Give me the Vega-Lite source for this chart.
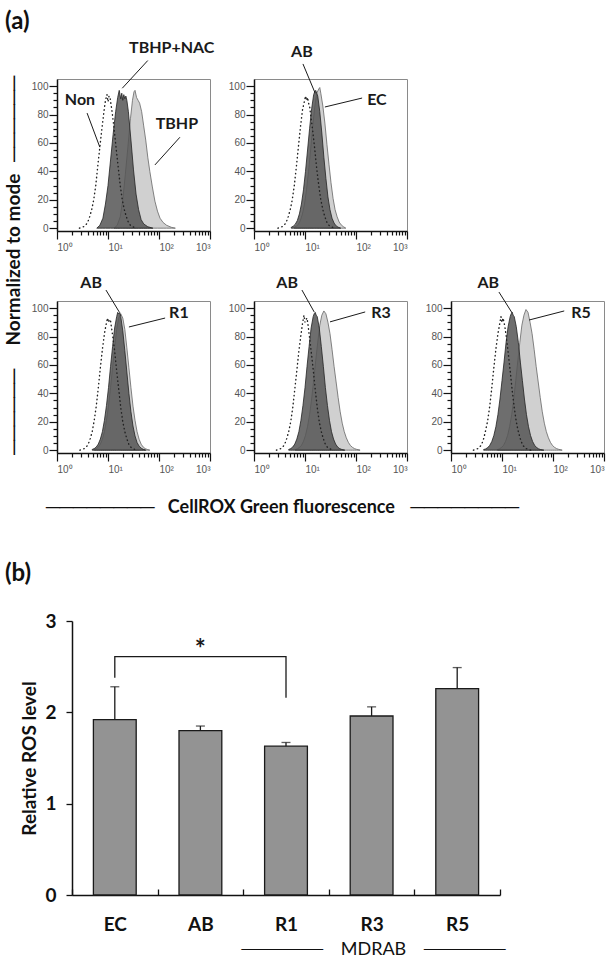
{
"$schema": "https://vega.github.io/schema/vega-lite/v6.json",
"autosize": {"type": "none"},
"padding": {"left": 57, "top": 79, "right": 550, "bottom": 879},
"background": "white",
"config": {"view": {"stroke": "#8a8a8a", "strokeWidth": 1}, "font": "Lato"},
"datasets": {
"curves": [
{"panel":"A","curve":"non","logF":0.44,"pct":0},{"panel":"A","curve":"non","logF":0.48,"pct":0.5},{"panel":"A","curve":"non","logF":0.52,"pct":1},{"panel":"A","curve":"non","logF":0.56,"pct":2},{"panel":"A","curve":"non","logF":0.60,"pct":4},{"panel":"A","curve":"non","logF":0.64,"pct":8},{"panel":"A","curve":"non","logF":0.68,"pct":13},{"panel":"A","curve":"non","logF":0.72,"pct":20},{"panel":"A","curve":"non","logF":0.76,"pct":30},{"panel":"A","curve":"non","logF":0.80,"pct":44},{"panel":"A","curve":"non","logF":0.84,"pct":57},{"panel":"A","curve":"non","logF":0.88,"pct":70},{"panel":"A","curve":"non","logF":0.92,"pct":82},{"panel":"A","curve":"non","logF":0.95,"pct":90},{"panel":"A","curve":"non","logF":0.98,"pct":94},{"panel":"A","curve":"non","logF":1.00,"pct":89},{"panel":"A","curve":"non","logF":1.02,"pct":93},{"panel":"A","curve":"non","logF":1.04,"pct":92},{"panel":"A","curve":"non","logF":1.06,"pct":87},{"panel":"A","curve":"non","logF":1.08,"pct":82},{"panel":"A","curve":"non","logF":1.12,"pct":70},{"panel":"A","curve":"non","logF":1.16,"pct":56},{"panel":"A","curve":"non","logF":1.20,"pct":43},{"panel":"A","curve":"non","logF":1.24,"pct":30},{"panel":"A","curve":"non","logF":1.28,"pct":20},{"panel":"A","curve":"non","logF":1.32,"pct":13},{"panel":"A","curve":"non","logF":1.36,"pct":8},{"panel":"A","curve":"non","logF":1.40,"pct":4},{"panel":"A","curve":"non","logF":1.44,"pct":2},{"panel":"A","curve":"non","logF":1.48,"pct":1},{"panel":"A","curve":"non","logF":1.56,"pct":0},
{"panel":"A","curve":"dark","logF":0.78,"pct":0},{"panel":"A","curve":"dark","logF":0.84,"pct":2},{"panel":"A","curve":"dark","logF":0.90,"pct":7},{"panel":"A","curve":"dark","logF":0.95,"pct":17},{"panel":"A","curve":"dark","logF":1.00,"pct":30},{"panel":"A","curve":"dark","logF":1.05,"pct":48},{"panel":"A","curve":"dark","logF":1.10,"pct":66},{"panel":"A","curve":"dark","logF":1.15,"pct":82},{"panel":"A","curve":"dark","logF":1.19,"pct":92},{"panel":"A","curve":"dark","logF":1.22,"pct":97},{"panel":"A","curve":"dark","logF":1.25,"pct":91},{"panel":"A","curve":"dark","logF":1.27,"pct":95},{"panel":"A","curve":"dark","logF":1.29,"pct":90},{"panel":"A","curve":"dark","logF":1.31,"pct":94},{"panel":"A","curve":"dark","logF":1.33,"pct":91},{"panel":"A","curve":"dark","logF":1.35,"pct":93},{"panel":"A","curve":"dark","logF":1.37,"pct":90},{"panel":"A","curve":"dark","logF":1.40,"pct":82},{"panel":"A","curve":"dark","logF":1.45,"pct":62},{"panel":"A","curve":"dark","logF":1.50,"pct":41},{"panel":"A","curve":"dark","logF":1.55,"pct":24},{"panel":"A","curve":"dark","logF":1.60,"pct":13},{"panel":"A","curve":"dark","logF":1.65,"pct":6},{"panel":"A","curve":"dark","logF":1.70,"pct":3},{"panel":"A","curve":"dark","logF":1.78,"pct":1},{"panel":"A","curve":"dark","logF":1.88,"pct":0},
{"panel":"A","curve":"light","logF":1.12,"pct":0},{"panel":"A","curve":"light","logF":1.18,"pct":2},{"panel":"A","curve":"light","logF":1.24,"pct":8},{"panel":"A","curve":"light","logF":1.29,"pct":20},{"panel":"A","curve":"light","logF":1.34,"pct":38},{"panel":"A","curve":"light","logF":1.39,"pct":57},{"panel":"A","curve":"light","logF":1.44,"pct":77},{"panel":"A","curve":"light","logF":1.48,"pct":90},{"panel":"A","curve":"light","logF":1.51,"pct":96},{"panel":"A","curve":"light","logF":1.53,"pct":97},{"panel":"A","curve":"light","logF":1.56,"pct":92},{"panel":"A","curve":"light","logF":1.59,"pct":90},{"panel":"A","curve":"light","logF":1.62,"pct":88},{"panel":"A","curve":"light","logF":1.66,"pct":82},{"panel":"A","curve":"light","logF":1.70,"pct":72},{"panel":"A","curve":"light","logF":1.74,"pct":62},{"panel":"A","curve":"light","logF":1.78,"pct":50},{"panel":"A","curve":"light","logF":1.82,"pct":40},{"panel":"A","curve":"light","logF":1.87,"pct":29},{"panel":"A","curve":"light","logF":1.92,"pct":19},{"panel":"A","curve":"light","logF":1.97,"pct":12},{"panel":"A","curve":"light","logF":2.02,"pct":7},{"panel":"A","curve":"light","logF":2.08,"pct":4},{"panel":"A","curve":"light","logF":2.15,"pct":2},{"panel":"A","curve":"light","logF":2.25,"pct":0.5},{"panel":"A","curve":"light","logF":2.32,"pct":0},
{"panel":"B","curve":"non","logF":0.47,"pct":0},{"panel":"B","curve":"non","logF":0.51,"pct":0.5},{"panel":"B","curve":"non","logF":0.55,"pct":1},{"panel":"B","curve":"non","logF":0.59,"pct":2},{"panel":"B","curve":"non","logF":0.63,"pct":4},{"panel":"B","curve":"non","logF":0.67,"pct":8},{"panel":"B","curve":"non","logF":0.71,"pct":13},{"panel":"B","curve":"non","logF":0.75,"pct":20},{"panel":"B","curve":"non","logF":0.79,"pct":30},{"panel":"B","curve":"non","logF":0.83,"pct":43},{"panel":"B","curve":"non","logF":0.87,"pct":57},{"panel":"B","curve":"non","logF":0.91,"pct":71},{"panel":"B","curve":"non","logF":0.95,"pct":83},{"panel":"B","curve":"non","logF":0.98,"pct":88},{"panel":"B","curve":"non","logF":1.01,"pct":93},{"panel":"B","curve":"non","logF":1.03,"pct":90},{"panel":"B","curve":"non","logF":1.05,"pct":92},{"panel":"B","curve":"non","logF":1.07,"pct":88},{"panel":"B","curve":"non","logF":1.09,"pct":86},{"panel":"B","curve":"non","logF":1.11,"pct":80},{"panel":"B","curve":"non","logF":1.15,"pct":69},{"panel":"B","curve":"non","logF":1.19,"pct":56},{"panel":"B","curve":"non","logF":1.23,"pct":42},{"panel":"B","curve":"non","logF":1.27,"pct":30},{"panel":"B","curve":"non","logF":1.31,"pct":20},{"panel":"B","curve":"non","logF":1.35,"pct":13},{"panel":"B","curve":"non","logF":1.39,"pct":8},{"panel":"B","curve":"non","logF":1.43,"pct":4},{"panel":"B","curve":"non","logF":1.47,"pct":2},{"panel":"B","curve":"non","logF":1.51,"pct":1},{"panel":"B","curve":"non","logF":1.59,"pct":0},
{"panel":"B","curve":"dark","logF":0.73,"pct":0.6},{"panel":"B","curve":"dark","logF":0.77,"pct":1.4},{"panel":"B","curve":"dark","logF":0.81,"pct":2.8},{"panel":"B","curve":"dark","logF":0.85,"pct":5.4},{"panel":"B","curve":"dark","logF":0.89,"pct":10},{"panel":"B","curve":"dark","logF":0.93,"pct":17},{"panel":"B","curve":"dark","logF":0.97,"pct":27},{"panel":"B","curve":"dark","logF":1.01,"pct":40},{"panel":"B","curve":"dark","logF":1.05,"pct":55},{"panel":"B","curve":"dark","logF":1.09,"pct":70},{"panel":"B","curve":"dark","logF":1.13,"pct":84},{"panel":"B","curve":"dark","logF":1.17,"pct":94},{"panel":"B","curve":"dark","logF":1.19,"pct":96},{"panel":"B","curve":"dark","logF":1.21,"pct":97},{"panel":"B","curve":"dark","logF":1.23,"pct":95},{"panel":"B","curve":"dark","logF":1.25,"pct":93},{"panel":"B","curve":"dark","logF":1.29,"pct":82},{"panel":"B","curve":"dark","logF":1.33,"pct":67},{"panel":"B","curve":"dark","logF":1.37,"pct":50},{"panel":"B","curve":"dark","logF":1.41,"pct":35},{"panel":"B","curve":"dark","logF":1.45,"pct":22},{"panel":"B","curve":"dark","logF":1.49,"pct":13},{"panel":"B","curve":"dark","logF":1.53,"pct":7},{"panel":"B","curve":"dark","logF":1.57,"pct":3.6},{"panel":"B","curve":"dark","logF":1.61,"pct":1.6},{"panel":"B","curve":"dark","logF":1.65,"pct":0.7},{"panel":"B","curve":"dark","logF":1.70,"pct":0},
{"panel":"B","curve":"light","logF":0.79,"pct":0.6},{"panel":"B","curve":"light","logF":0.83,"pct":1.4},{"panel":"B","curve":"light","logF":0.87,"pct":2.7},{"panel":"B","curve":"light","logF":0.91,"pct":5.5},{"panel":"B","curve":"light","logF":0.95,"pct":10},{"panel":"B","curve":"light","logF":0.99,"pct":17},{"panel":"B","curve":"light","logF":1.03,"pct":27},{"panel":"B","curve":"light","logF":1.07,"pct":40},{"panel":"B","curve":"light","logF":1.11,"pct":55},{"panel":"B","curve":"light","logF":1.15,"pct":71},{"panel":"B","curve":"light","logF":1.19,"pct":85},{"panel":"B","curve":"light","logF":1.23,"pct":95},{"panel":"B","curve":"light","logF":1.27,"pct":98},{"panel":"B","curve":"light","logF":1.29,"pct":99},{"panel":"B","curve":"light","logF":1.31,"pct":95},{"panel":"B","curve":"light","logF":1.35,"pct":86},{"panel":"B","curve":"light","logF":1.39,"pct":74},{"panel":"B","curve":"light","logF":1.43,"pct":59},{"panel":"B","curve":"light","logF":1.47,"pct":45},{"panel":"B","curve":"light","logF":1.51,"pct":32},{"panel":"B","curve":"light","logF":1.55,"pct":21},{"panel":"B","curve":"light","logF":1.59,"pct":13},{"panel":"B","curve":"light","logF":1.63,"pct":8},{"panel":"B","curve":"light","logF":1.67,"pct":4.3},{"panel":"B","curve":"light","logF":1.71,"pct":2.3},{"panel":"B","curve":"light","logF":1.75,"pct":1.1},{"panel":"B","curve":"light","logF":1.80,"pct":0},
{"panel":"R1","curve":"non","logF":0.45,"pct":0},{"panel":"R1","curve":"non","logF":0.49,"pct":0.5},{"panel":"R1","curve":"non","logF":0.53,"pct":1},{"panel":"R1","curve":"non","logF":0.57,"pct":2},{"panel":"R1","curve":"non","logF":0.61,"pct":4},{"panel":"R1","curve":"non","logF":0.65,"pct":8},{"panel":"R1","curve":"non","logF":0.69,"pct":13},{"panel":"R1","curve":"non","logF":0.73,"pct":21},{"panel":"R1","curve":"non","logF":0.77,"pct":31},{"panel":"R1","curve":"non","logF":0.81,"pct":44},{"panel":"R1","curve":"non","logF":0.85,"pct":58},{"panel":"R1","curve":"non","logF":0.89,"pct":71},{"panel":"R1","curve":"non","logF":0.93,"pct":82},{"panel":"R1","curve":"non","logF":0.96,"pct":88},{"panel":"R1","curve":"non","logF":0.99,"pct":93},{"panel":"R1","curve":"non","logF":1.01,"pct":90},{"panel":"R1","curve":"non","logF":1.03,"pct":92},{"panel":"R1","curve":"non","logF":1.05,"pct":91},{"panel":"R1","curve":"non","logF":1.07,"pct":86},{"panel":"R1","curve":"non","logF":1.09,"pct":81},{"panel":"R1","curve":"non","logF":1.13,"pct":70},{"panel":"R1","curve":"non","logF":1.17,"pct":56},{"panel":"R1","curve":"non","logF":1.21,"pct":43},{"panel":"R1","curve":"non","logF":1.25,"pct":30},{"panel":"R1","curve":"non","logF":1.29,"pct":20},{"panel":"R1","curve":"non","logF":1.33,"pct":13},{"panel":"R1","curve":"non","logF":1.37,"pct":8},{"panel":"R1","curve":"non","logF":1.41,"pct":4},{"panel":"R1","curve":"non","logF":1.45,"pct":2},{"panel":"R1","curve":"non","logF":1.49,"pct":1},{"panel":"R1","curve":"non","logF":1.57,"pct":0},
{"panel":"R1","curve":"dark","logF":0.69,"pct":0.5},{"panel":"R1","curve":"dark","logF":0.73,"pct":1.1},{"panel":"R1","curve":"dark","logF":0.77,"pct":2.2},{"panel":"R1","curve":"dark","logF":0.81,"pct":4.3},{"panel":"R1","curve":"dark","logF":0.85,"pct":7.8},{"panel":"R1","curve":"dark","logF":0.89,"pct":13},{"panel":"R1","curve":"dark","logF":0.93,"pct":21},{"panel":"R1","curve":"dark","logF":0.97,"pct":31.5},{"panel":"R1","curve":"dark","logF":1.01,"pct":44},{"panel":"R1","curve":"dark","logF":1.05,"pct":59},{"panel":"R1","curve":"dark","logF":1.09,"pct":73},{"panel":"R1","curve":"dark","logF":1.13,"pct":86},{"panel":"R1","curve":"dark","logF":1.17,"pct":94},{"panel":"R1","curve":"dark","logF":1.19,"pct":97},{"panel":"R1","curve":"dark","logF":1.21,"pct":96},{"panel":"R1","curve":"dark","logF":1.23,"pct":97},{"panel":"R1","curve":"dark","logF":1.25,"pct":94},{"panel":"R1","curve":"dark","logF":1.29,"pct":84},{"panel":"R1","curve":"dark","logF":1.33,"pct":70},{"panel":"R1","curve":"dark","logF":1.37,"pct":55},{"panel":"R1","curve":"dark","logF":1.41,"pct":40},{"panel":"R1","curve":"dark","logF":1.45,"pct":27},{"panel":"R1","curve":"dark","logF":1.49,"pct":17},{"panel":"R1","curve":"dark","logF":1.53,"pct":10},{"panel":"R1","curve":"dark","logF":1.57,"pct":5.4},{"panel":"R1","curve":"dark","logF":1.61,"pct":2.8},{"panel":"R1","curve":"dark","logF":1.65,"pct":1.4},{"panel":"R1","curve":"dark","logF":1.69,"pct":0.6},{"panel":"R1","curve":"dark","logF":1.74,"pct":0},
{"panel":"R1","curve":"light","logF":0.73,"pct":0.5},{"panel":"R1","curve":"light","logF":0.77,"pct":1.1},{"panel":"R1","curve":"light","logF":0.81,"pct":2.2},{"panel":"R1","curve":"light","logF":0.85,"pct":4.2},{"panel":"R1","curve":"light","logF":0.89,"pct":7.7},{"panel":"R1","curve":"light","logF":0.93,"pct":13},{"panel":"R1","curve":"light","logF":0.97,"pct":21},{"panel":"R1","curve":"light","logF":1.01,"pct":31},{"panel":"R1","curve":"light","logF":1.05,"pct":44},{"panel":"R1","curve":"light","logF":1.09,"pct":58},{"panel":"R1","curve":"light","logF":1.13,"pct":72},{"panel":"R1","curve":"light","logF":1.17,"pct":85},{"panel":"R1","curve":"light","logF":1.21,"pct":93},{"panel":"R1","curve":"light","logF":1.25,"pct":96},{"panel":"R1","curve":"light","logF":1.29,"pct":93},{"panel":"R1","curve":"light","logF":1.33,"pct":85},{"panel":"R1","curve":"light","logF":1.37,"pct":72},{"panel":"R1","curve":"light","logF":1.41,"pct":58},{"panel":"R1","curve":"light","logF":1.45,"pct":44},{"panel":"R1","curve":"light","logF":1.49,"pct":31},{"panel":"R1","curve":"light","logF":1.53,"pct":21},{"panel":"R1","curve":"light","logF":1.57,"pct":13},{"panel":"R1","curve":"light","logF":1.61,"pct":7.7},{"panel":"R1","curve":"light","logF":1.65,"pct":4.2},{"panel":"R1","curve":"light","logF":1.69,"pct":2.2},{"panel":"R1","curve":"light","logF":1.73,"pct":1.1},{"panel":"R1","curve":"light","logF":1.77,"pct":0.5},{"panel":"R1","curve":"light","logF":1.82,"pct":0},
{"panel":"R3","curve":"non","logF":0.44,"pct":0},{"panel":"R3","curve":"non","logF":0.48,"pct":0.5},{"panel":"R3","curve":"non","logF":0.52,"pct":1},{"panel":"R3","curve":"non","logF":0.56,"pct":2},{"panel":"R3","curve":"non","logF":0.60,"pct":4},{"panel":"R3","curve":"non","logF":0.64,"pct":8},{"panel":"R3","curve":"non","logF":0.68,"pct":13},{"panel":"R3","curve":"non","logF":0.72,"pct":20},{"panel":"R3","curve":"non","logF":0.76,"pct":30},{"panel":"R3","curve":"non","logF":0.80,"pct":43},{"panel":"R3","curve":"non","logF":0.84,"pct":56},{"panel":"R3","curve":"non","logF":0.88,"pct":70},{"panel":"R3","curve":"non","logF":0.92,"pct":81},{"panel":"R3","curve":"non","logF":0.95,"pct":89},{"panel":"R3","curve":"non","logF":0.98,"pct":95},{"panel":"R3","curve":"non","logF":1.00,"pct":90},{"panel":"R3","curve":"non","logF":1.02,"pct":92},{"panel":"R3","curve":"non","logF":1.04,"pct":93},{"panel":"R3","curve":"non","logF":1.06,"pct":88},{"panel":"R3","curve":"non","logF":1.08,"pct":82},{"panel":"R3","curve":"non","logF":1.12,"pct":70},{"panel":"R3","curve":"non","logF":1.16,"pct":57},{"panel":"R3","curve":"non","logF":1.20,"pct":43},{"panel":"R3","curve":"non","logF":1.24,"pct":30},{"panel":"R3","curve":"non","logF":1.28,"pct":20},{"panel":"R3","curve":"non","logF":1.32,"pct":13},{"panel":"R3","curve":"non","logF":1.36,"pct":8},{"panel":"R3","curve":"non","logF":1.40,"pct":4},{"panel":"R3","curve":"non","logF":1.44,"pct":2},{"panel":"R3","curve":"non","logF":1.48,"pct":1},{"panel":"R3","curve":"non","logF":1.56,"pct":0},
{"panel":"R3","curve":"dark","logF":0.68,"pct":0.5},{"panel":"R3","curve":"dark","logF":0.72,"pct":1.1},{"panel":"R3","curve":"dark","logF":0.76,"pct":2.2},{"panel":"R3","curve":"dark","logF":0.80,"pct":4.3},{"panel":"R3","curve":"dark","logF":0.84,"pct":7.8},{"panel":"R3","curve":"dark","logF":0.88,"pct":13},{"panel":"R3","curve":"dark","logF":0.92,"pct":21},{"panel":"R3","curve":"dark","logF":0.96,"pct":31.5},{"panel":"R3","curve":"dark","logF":1.00,"pct":44},{"panel":"R3","curve":"dark","logF":1.04,"pct":59},{"panel":"R3","curve":"dark","logF":1.08,"pct":73},{"panel":"R3","curve":"dark","logF":1.12,"pct":86},{"panel":"R3","curve":"dark","logF":1.16,"pct":94},{"panel":"R3","curve":"dark","logF":1.18,"pct":96},{"panel":"R3","curve":"dark","logF":1.20,"pct":97},{"panel":"R3","curve":"dark","logF":1.22,"pct":95},{"panel":"R3","curve":"dark","logF":1.24,"pct":94},{"panel":"R3","curve":"dark","logF":1.28,"pct":86},{"panel":"R3","curve":"dark","logF":1.32,"pct":73},{"panel":"R3","curve":"dark","logF":1.36,"pct":59},{"panel":"R3","curve":"dark","logF":1.40,"pct":44},{"panel":"R3","curve":"dark","logF":1.44,"pct":31.5},{"panel":"R3","curve":"dark","logF":1.48,"pct":21},{"panel":"R3","curve":"dark","logF":1.52,"pct":13},{"panel":"R3","curve":"dark","logF":1.56,"pct":7.8},{"panel":"R3","curve":"dark","logF":1.60,"pct":4.3},{"panel":"R3","curve":"dark","logF":1.64,"pct":2.2},{"panel":"R3","curve":"dark","logF":1.68,"pct":1.1},{"panel":"R3","curve":"dark","logF":1.72,"pct":0.5},{"panel":"R3","curve":"dark","logF":1.78,"pct":0},
{"panel":"R3","curve":"light","logF":0.81,"pct":0.4},{"panel":"R3","curve":"light","logF":0.85,"pct":0.9},{"panel":"R3","curve":"light","logF":0.89,"pct":1.9},{"panel":"R3","curve":"light","logF":0.93,"pct":3.4},{"panel":"R3","curve":"light","logF":0.97,"pct":6.2},{"panel":"R3","curve":"light","logF":1.01,"pct":10.4},{"panel":"R3","curve":"light","logF":1.05,"pct":16.7},{"panel":"R3","curve":"light","logF":1.09,"pct":25},{"panel":"R3","curve":"light","logF":1.13,"pct":36},{"panel":"R3","curve":"light","logF":1.17,"pct":49},{"panel":"R3","curve":"light","logF":1.21,"pct":63},{"panel":"R3","curve":"light","logF":1.25,"pct":76},{"panel":"R3","curve":"light","logF":1.29,"pct":88},{"panel":"R3","curve":"light","logF":1.33,"pct":95},{"panel":"R3","curve":"light","logF":1.37,"pct":98},{"panel":"R3","curve":"light","logF":1.41,"pct":96},{"panel":"R3","curve":"light","logF":1.45,"pct":90},{"panel":"R3","curve":"light","logF":1.49,"pct":82},{"panel":"R3","curve":"light","logF":1.53,"pct":71},{"panel":"R3","curve":"light","logF":1.57,"pct":59},{"panel":"R3","curve":"light","logF":1.61,"pct":48},{"panel":"R3","curve":"light","logF":1.65,"pct":37},{"panel":"R3","curve":"light","logF":1.69,"pct":27},{"panel":"R3","curve":"light","logF":1.73,"pct":19},{"panel":"R3","curve":"light","logF":1.77,"pct":13},{"panel":"R3","curve":"light","logF":1.81,"pct":8.7},{"panel":"R3","curve":"light","logF":1.85,"pct":5.5},{"panel":"R3","curve":"light","logF":1.89,"pct":3.3},{"panel":"R3","curve":"light","logF":1.93,"pct":2.0},{"panel":"R3","curve":"light","logF":1.97,"pct":1.1},{"panel":"R3","curve":"light","logF":2.01,"pct":0.6},{"panel":"R3","curve":"light","logF":2.08,"pct":0},
{"panel":"R5","curve":"non","logF":0.44,"pct":0},{"panel":"R5","curve":"non","logF":0.48,"pct":0.5},{"panel":"R5","curve":"non","logF":0.52,"pct":1},{"panel":"R5","curve":"non","logF":0.56,"pct":2},{"panel":"R5","curve":"non","logF":0.60,"pct":4},{"panel":"R5","curve":"non","logF":0.64,"pct":8},{"panel":"R5","curve":"non","logF":0.68,"pct":14},{"panel":"R5","curve":"non","logF":0.72,"pct":21},{"panel":"R5","curve":"non","logF":0.76,"pct":31},{"panel":"R5","curve":"non","logF":0.80,"pct":44},{"panel":"R5","curve":"non","logF":0.84,"pct":58},{"panel":"R5","curve":"non","logF":0.88,"pct":71},{"panel":"R5","curve":"non","logF":0.92,"pct":82},{"panel":"R5","curve":"non","logF":0.95,"pct":88},{"panel":"R5","curve":"non","logF":0.98,"pct":94},{"panel":"R5","curve":"non","logF":1.00,"pct":90},{"panel":"R5","curve":"non","logF":1.02,"pct":93},{"panel":"R5","curve":"non","logF":1.04,"pct":90},{"panel":"R5","curve":"non","logF":1.06,"pct":86},{"panel":"R5","curve":"non","logF":1.08,"pct":81},{"panel":"R5","curve":"non","logF":1.12,"pct":69},{"panel":"R5","curve":"non","logF":1.16,"pct":56},{"panel":"R5","curve":"non","logF":1.20,"pct":42},{"panel":"R5","curve":"non","logF":1.24,"pct":30},{"panel":"R5","curve":"non","logF":1.28,"pct":20},{"panel":"R5","curve":"non","logF":1.32,"pct":13},{"panel":"R5","curve":"non","logF":1.36,"pct":8},{"panel":"R5","curve":"non","logF":1.40,"pct":4},{"panel":"R5","curve":"non","logF":1.44,"pct":2},{"panel":"R5","curve":"non","logF":1.48,"pct":1},{"panel":"R5","curve":"non","logF":1.56,"pct":0},
{"panel":"R5","curve":"dark","logF":0.64,"pct":0.4},{"panel":"R5","curve":"dark","logF":0.68,"pct":0.9},{"panel":"R5","curve":"dark","logF":0.72,"pct":1.8},{"panel":"R5","curve":"dark","logF":0.76,"pct":3.4},{"panel":"R5","curve":"dark","logF":0.80,"pct":6.1},{"panel":"R5","curve":"dark","logF":0.84,"pct":10.3},{"panel":"R5","curve":"dark","logF":0.88,"pct":16.5},{"panel":"R5","curve":"dark","logF":0.92,"pct":25},{"panel":"R5","curve":"dark","logF":0.96,"pct":36},{"panel":"R5","curve":"dark","logF":1.00,"pct":49},{"panel":"R5","curve":"dark","logF":1.04,"pct":62},{"panel":"R5","curve":"dark","logF":1.08,"pct":76},{"panel":"R5","curve":"dark","logF":1.12,"pct":87},{"panel":"R5","curve":"dark","logF":1.16,"pct":94},{"panel":"R5","curve":"dark","logF":1.18,"pct":96},{"panel":"R5","curve":"dark","logF":1.20,"pct":97},{"panel":"R5","curve":"dark","logF":1.22,"pct":95},{"panel":"R5","curve":"dark","logF":1.24,"pct":94},{"panel":"R5","curve":"dark","logF":1.28,"pct":87},{"panel":"R5","curve":"dark","logF":1.32,"pct":76},{"panel":"R5","curve":"dark","logF":1.36,"pct":62},{"panel":"R5","curve":"dark","logF":1.40,"pct":49},{"panel":"R5","curve":"dark","logF":1.44,"pct":36},{"panel":"R5","curve":"dark","logF":1.48,"pct":25},{"panel":"R5","curve":"dark","logF":1.52,"pct":16.5},{"panel":"R5","curve":"dark","logF":1.56,"pct":10.3},{"panel":"R5","curve":"dark","logF":1.60,"pct":6.1},{"panel":"R5","curve":"dark","logF":1.64,"pct":3.4},{"panel":"R5","curve":"dark","logF":1.68,"pct":1.8},{"panel":"R5","curve":"dark","logF":1.72,"pct":0.9},{"panel":"R5","curve":"dark","logF":1.76,"pct":0.4},{"panel":"R5","curve":"dark","logF":1.82,"pct":0},
{"panel":"R5","curve":"light","logF":0.91,"pct":0.4},{"panel":"R5","curve":"light","logF":0.95,"pct":0.9},{"panel":"R5","curve":"light","logF":0.99,"pct":1.9},{"panel":"R5","curve":"light","logF":1.03,"pct":3.4},{"panel":"R5","curve":"light","logF":1.07,"pct":6.2},{"panel":"R5","curve":"light","logF":1.11,"pct":10.4},{"panel":"R5","curve":"light","logF":1.15,"pct":16.7},{"panel":"R5","curve":"light","logF":1.19,"pct":25},{"panel":"R5","curve":"light","logF":1.23,"pct":36},{"panel":"R5","curve":"light","logF":1.27,"pct":49},{"panel":"R5","curve":"light","logF":1.31,"pct":63},{"panel":"R5","curve":"light","logF":1.35,"pct":76},{"panel":"R5","curve":"light","logF":1.39,"pct":88},{"panel":"R5","curve":"light","logF":1.43,"pct":95},{"panel":"R5","curve":"light","logF":1.47,"pct":99},{"panel":"R5","curve":"light","logF":1.51,"pct":97},{"panel":"R5","curve":"light","logF":1.55,"pct":90},{"panel":"R5","curve":"light","logF":1.59,"pct":82},{"panel":"R5","curve":"light","logF":1.63,"pct":71},{"panel":"R5","curve":"light","logF":1.67,"pct":59},{"panel":"R5","curve":"light","logF":1.71,"pct":48},{"panel":"R5","curve":"light","logF":1.75,"pct":37},{"panel":"R5","curve":"light","logF":1.79,"pct":27},{"panel":"R5","curve":"light","logF":1.83,"pct":19},{"panel":"R5","curve":"light","logF":1.87,"pct":13},{"panel":"R5","curve":"light","logF":1.91,"pct":8.7},{"panel":"R5","curve":"light","logF":1.95,"pct":5.5},{"panel":"R5","curve":"light","logF":1.99,"pct":3.3},{"panel":"R5","curve":"light","logF":2.03,"pct":2.0},{"panel":"R5","curve":"light","logF":2.07,"pct":1.1},{"panel":"R5","curve":"light","logF":2.11,"pct":0.6},{"panel":"R5","curve":"light","logF":2.18,"pct":0}
],
"labels": [
{"panel":"A","label":"TBHP+NAC","logF":2.25,"pct":127},{"panel":"A","label":"Non","logF":0.45,"pct":90},{"panel":"A","label":"TBHP","logF":2.35,"pct":73},
{"panel":"B","label":"AB","logF":0.94,"pct":124},{"panel":"B","label":"EC","logF":2.41,"pct":90},
{"panel":"R1","label":"AB","logF":0.67,"pct":118},{"panel":"R1","label":"R1","logF":2.39,"pct":96.5},
{"panel":"R3","label":"AB","logF":0.65,"pct":118},{"panel":"R3","label":"R3","logF":2.49,"pct":96.5},
{"panel":"R5","label":"AB","logF":0.73,"pct":118},{"panel":"R5","label":"R5","logF":2.55,"pct":96.5}
],
"leaders": [
{"panel":"A","logF":1.78,"pct":118,"logF2":1.28,"pct2":98.5},{"panel":"A","logF":0.59,"pct":81,"logF2":0.84,"pct2":57},{"panel":"A","logF":2.41,"pct":64,"logF2":1.92,"pct2":44.5},
{"panel":"B","logF":0.96,"pct":115.6,"logF2":1.2,"pct2":95},{"panel":"B","logF":2.12,"pct":91.6,"logF2":1.39,"pct2":85.3},
{"panel":"R1","logF":0.96,"pct":112.7,"logF2":1.22,"pct2":97.3},{"panel":"R1","logF":2.12,"pct":93,"logF2":1.41,"pct2":86.7},
{"panel":"R3","logF":0.94,"pct":112.7,"logF2":1.18,"pct2":97.3},{"panel":"R3","logF":2.18,"pct":97.3,"logF2":1.49,"pct2":90.3},
{"panel":"R5","logF":0.94,"pct":111.3,"logF2":1.2,"pct2":96.5},{"panel":"R5","logF":2.22,"pct":98,"logF2":1.53,"pct2":91.6}
],
"bars": [
{"group":"EC","mean":1.92,"upper":2.28},{"group":"AB","mean":1.80,"upper":1.85},{"group":"R1","mean":1.63,"upper":1.67},{"group":"R3","mean":1.96,"upper":2.06},{"group":"R5","mean":2.26,"upper":2.49}
],
"bracket": [
{"group":"EC","level":2.38,"step":1},{"group":"EC","level":2.61,"step":2},{"group":"R1","level":2.61,"step":3},{"group":"R1","level":2.16,"step":4}
],
"star": [{"group":"AB","level":2.68,"text":"*"}]
},
"vconcat": [
{"vconcat": [
{"hconcat": [
{"width":153,"height":152,
"title":{"text":"(a)","anchor":"start","frame":"group","dx":-52,"fontSize":24,"font":"Lato","fontWeight":"bold","color":"#111","offset":6},
"encoding":{
"x":{"field":"logF","type":"quantitative","scale":{"domain":[0,3],"nice":false,"zero":false},"axis":{"values":[0,0.301,0.477,0.602,0.699,0.778,0.845,0.903,0.954,1,1.301,1.477,1.602,1.699,1.778,1.845,1.903,1.954,2,2.301,2.477,2.602,2.699,2.778,2.845,2.903,2.954,3],"labelExpr":"datum.value % 1 == 0 ? '10' + ['⁰','¹','²','³'][datum.value] : ''","tickSize":{"condition":{"test":"datum.value % 1 == 0","value":8},"value":4},"labelAlign":{"condition":{"test":"datum.value == 3","value":"right"},"value":"left"},"labelFlush":false,"labelOverlap":false,"labelBound":false,"labelPadding":3,"labelFont":"Liberation Sans","labelFontSize":10,"labelColor":"#555","domainColor":"#111","domainWidth":1.5,"tickColor":"#111","tickWidth":1.2,"grid":false,"title":null}},
"y":{"field":"pct","type":"quantitative","scale":{"domain":[-2,105],"nice":false,"zero":false},"axis":{"values":[0,5,10,15,20,25,30,35,40,45,50,55,60,65,70,75,80,85,90,95,100],"labelExpr":"datum.value % 20 == 0 ? datum.label : ''","tickSize":{"condition":{"test":"datum.value % 20 == 0","value":8},"value":4},"labelPadding":1,"labelOverlap":false,"labelFont":"Liberation Sans","labelFontSize":10,"labelColor":"#555","domainColor":"#111","domainWidth":1.5,"tickColor":"#111","tickWidth":1.2,"grid":false,
"title":"──────\u2003\u2002Normalized to mode\u2002\u2009──────","titleX":-44,"titleY":186,"titleAngle":-90,"titleAlign":"center","titleBaseline":"middle","titleFont":"Lato","titleFontSize":19,"titleFontWeight":"bold","titleColor":"#111"}}},
"layer":[
{"data":{"name":"curves"},"transform":[{"filter":"datum.panel == 'A' && datum.curve == 'light'"}],"mark":{"type":"area","fill":"#d0d0d0","stroke":"#666","strokeWidth":0.8}},
{"data":{"name":"curves"},"transform":[{"filter":"datum.panel == 'A' && datum.curve == 'dark'"}],"mark":{"type":"area","fill":"#555","fillOpacity":0.85,"stroke":"#222","strokeWidth":0.8}},
{"data":{"name":"curves"},"transform":[{"filter":"datum.panel == 'A' && datum.curve == 'non'"}],"mark":{"type":"line","stroke":"#222","strokeWidth":1.4,"strokeDash":[0.5,3.5],"strokeCap":"round"}},
{"data":{"name":"leaders"},"transform":[{"filter":"datum.panel == 'A'"}],"mark":{"type":"rule","stroke":"#1a1a1a","strokeWidth":1},"encoding":{"x2":{"field":"logF2"},"y2":{"field":"pct2"}}},
{"data":{"name":"labels"},"transform":[{"filter":"datum.panel == 'A'"}],"mark":{"type":"text","font":"Lato","fontWeight":"bold","fontSize":16,"color":"#1a1a1a"},"encoding":{"text":{"field":"label"}}}
]},
{"width":153,"height":152,
"encoding":{
"x":{"field":"logF","type":"quantitative","scale":{"domain":[0,3],"nice":false,"zero":false},"axis":{"values":[0,0.301,0.477,0.602,0.699,0.778,0.845,0.903,0.954,1,1.301,1.477,1.602,1.699,1.778,1.845,1.903,1.954,2,2.301,2.477,2.602,2.699,2.778,2.845,2.903,2.954,3],"labelExpr":"datum.value % 1 == 0 ? '10' + ['⁰','¹','²','³'][datum.value] : ''","tickSize":{"condition":{"test":"datum.value % 1 == 0","value":8},"value":4},"labelAlign":{"condition":{"test":"datum.value == 3","value":"right"},"value":"left"},"labelFlush":false,"labelOverlap":false,"labelBound":false,"labelPadding":3,"labelFont":"Liberation Sans","labelFontSize":10,"labelColor":"#555","domainColor":"#111","domainWidth":1.5,"tickColor":"#111","tickWidth":1.2,"grid":false,"title":null}},
"y":{"field":"pct","type":"quantitative","scale":{"domain":[-2,105],"nice":false,"zero":false},"axis":{"values":[0,5,10,15,20,25,30,35,40,45,50,55,60,65,70,75,80,85,90,95,100],"labelExpr":"datum.value % 20 == 0 ? datum.label : ''","tickSize":{"condition":{"test":"datum.value % 20 == 0","value":8},"value":4},"labelPadding":1,"labelOverlap":false,"labelFont":"Liberation Sans","labelFontSize":10,"labelColor":"#555","domainColor":"#111","domainWidth":1.5,"tickColor":"#111","tickWidth":1.2,"grid":false,"title":null}}},
"layer":[
{"data":{"name":"curves"},"transform":[{"filter":"datum.panel == 'B' && datum.curve == 'light'"}],"mark":{"type":"area","fill":"#d0d0d0","stroke":"#666","strokeWidth":0.8}},
{"data":{"name":"curves"},"transform":[{"filter":"datum.panel == 'B' && datum.curve == 'dark'"}],"mark":{"type":"area","fill":"#555","fillOpacity":0.85,"stroke":"#222","strokeWidth":0.8}},
{"data":{"name":"curves"},"transform":[{"filter":"datum.panel == 'B' && datum.curve == 'non'"}],"mark":{"type":"line","stroke":"#222","strokeWidth":1.4,"strokeDash":[0.5,3.5],"strokeCap":"round"}},
{"data":{"name":"leaders"},"transform":[{"filter":"datum.panel == 'B'"}],"mark":{"type":"rule","stroke":"#1a1a1a","strokeWidth":1},"encoding":{"x2":{"field":"logF2"},"y2":{"field":"pct2"}}},
{"data":{"name":"labels"},"transform":[{"filter":"datum.panel == 'B'"}],"mark":{"type":"text","font":"Lato","fontWeight":"bold","fontSize":16,"color":"#1a1a1a"},"encoding":{"text":{"field":"label"}}}
]}
], "spacing": 44, "bounds": "flush"},
{"hconcat": [
{"width":153,"height":152,
"encoding":{
"x":{"field":"logF","type":"quantitative","scale":{"domain":[0,3],"nice":false,"zero":false},"axis":{"values":[0,0.301,0.477,0.602,0.699,0.778,0.845,0.903,0.954,1,1.301,1.477,1.602,1.699,1.778,1.845,1.903,1.954,2,2.301,2.477,2.602,2.699,2.778,2.845,2.903,2.954,3],"labelExpr":"datum.value % 1 == 0 ? '10' + ['⁰','¹','²','³'][datum.value] : ''","tickSize":{"condition":{"test":"datum.value % 1 == 0","value":8},"value":4},"labelAlign":{"condition":{"test":"datum.value == 3","value":"right"},"value":"left"},"labelFlush":false,"labelOverlap":false,"labelBound":false,"labelPadding":3,"labelFont":"Liberation Sans","labelFontSize":10,"labelColor":"#555","domainColor":"#111","domainWidth":1.5,"tickColor":"#111","tickWidth":1.2,"grid":false,"title":null}},
"y":{"field":"pct","type":"quantitative","scale":{"domain":[-2,105],"nice":false,"zero":false},"axis":{"values":[0,5,10,15,20,25,30,35,40,45,50,55,60,65,70,75,80,85,90,95,100],"labelExpr":"datum.value % 20 == 0 ? datum.label : ''","tickSize":{"condition":{"test":"datum.value % 20 == 0","value":8},"value":4},"labelPadding":1,"labelOverlap":false,"labelFont":"Liberation Sans","labelFontSize":10,"labelColor":"#555","domainColor":"#111","domainWidth":1.5,"tickColor":"#111","tickWidth":1.2,"grid":false,"title":null}}},
"layer":[
{"data":{"name":"curves"},"transform":[{"filter":"datum.panel == 'R1' && datum.curve == 'light'"}],"mark":{"type":"area","fill":"#d0d0d0","stroke":"#666","strokeWidth":0.8}},
{"data":{"name":"curves"},"transform":[{"filter":"datum.panel == 'R1' && datum.curve == 'dark'"}],"mark":{"type":"area","fill":"#555","fillOpacity":0.85,"stroke":"#222","strokeWidth":0.8}},
{"data":{"name":"curves"},"transform":[{"filter":"datum.panel == 'R1' && datum.curve == 'non'"}],"mark":{"type":"line","stroke":"#222","strokeWidth":1.4,"strokeDash":[0.5,3.5],"strokeCap":"round"}},
{"data":{"name":"leaders"},"transform":[{"filter":"datum.panel == 'R1'"}],"mark":{"type":"rule","stroke":"#1a1a1a","strokeWidth":1},"encoding":{"x2":{"field":"logF2"},"y2":{"field":"pct2"}}},
{"data":{"name":"labels"},"transform":[{"filter":"datum.panel == 'R1'"}],"mark":{"type":"text","font":"Lato","fontWeight":"bold","fontSize":16,"color":"#1a1a1a"},"encoding":{"text":{"field":"label"}}}
]},
{"width":153,"height":152,
"encoding":{
"x":{"field":"logF","type":"quantitative","scale":{"domain":[0,3],"nice":false,"zero":false},"axis":{"values":[0,0.301,0.477,0.602,0.699,0.778,0.845,0.903,0.954,1,1.301,1.477,1.602,1.699,1.778,1.845,1.903,1.954,2,2.301,2.477,2.602,2.699,2.778,2.845,2.903,2.954,3],"labelExpr":"datum.value % 1 == 0 ? '10' + ['⁰','¹','²','³'][datum.value] : ''","tickSize":{"condition":{"test":"datum.value % 1 == 0","value":8},"value":4},"labelAlign":{"condition":{"test":"datum.value == 3","value":"right"},"value":"left"},"labelFlush":false,"labelOverlap":false,"labelBound":false,"labelPadding":3,"labelFont":"Liberation Sans","labelFontSize":10,"labelColor":"#555","domainColor":"#111","domainWidth":1.5,"tickColor":"#111","tickWidth":1.2,"grid":false,
"title":"────────\u2003CellROX Green fluorescence\u2003\u2009────────","titleX":28,"titleY":54,"titleAlign":"center","titleBaseline":"middle","titleFont":"Lato","titleFontSize":18,"titleFontWeight":"bold","titleColor":"#111"}},
"y":{"field":"pct","type":"quantitative","scale":{"domain":[-2,105],"nice":false,"zero":false},"axis":{"values":[0,5,10,15,20,25,30,35,40,45,50,55,60,65,70,75,80,85,90,95,100],"labelExpr":"datum.value % 20 == 0 ? datum.label : ''","tickSize":{"condition":{"test":"datum.value % 20 == 0","value":8},"value":4},"labelPadding":1,"labelOverlap":false,"labelFont":"Liberation Sans","labelFontSize":10,"labelColor":"#555","domainColor":"#111","domainWidth":1.5,"tickColor":"#111","tickWidth":1.2,"grid":false,"title":null}}},
"layer":[
{"data":{"name":"curves"},"transform":[{"filter":"datum.panel == 'R3' && datum.curve == 'light'"}],"mark":{"type":"area","fill":"#d0d0d0","stroke":"#666","strokeWidth":0.8}},
{"data":{"name":"curves"},"transform":[{"filter":"datum.panel == 'R3' && datum.curve == 'dark'"}],"mark":{"type":"area","fill":"#555","fillOpacity":0.85,"stroke":"#222","strokeWidth":0.8}},
{"data":{"name":"curves"},"transform":[{"filter":"datum.panel == 'R3' && datum.curve == 'non'"}],"mark":{"type":"line","stroke":"#222","strokeWidth":1.4,"strokeDash":[0.5,3.5],"strokeCap":"round"}},
{"data":{"name":"leaders"},"transform":[{"filter":"datum.panel == 'R3'"}],"mark":{"type":"rule","stroke":"#1a1a1a","strokeWidth":1},"encoding":{"x2":{"field":"logF2"},"y2":{"field":"pct2"}}},
{"data":{"name":"labels"},"transform":[{"filter":"datum.panel == 'R3'"}],"mark":{"type":"text","font":"Lato","fontWeight":"bold","fontSize":16,"color":"#1a1a1a"},"encoding":{"text":{"field":"label"}}}
]},
{"width":153,"height":152,
"encoding":{
"x":{"field":"logF","type":"quantitative","scale":{"domain":[0,3],"nice":false,"zero":false},"axis":{"values":[0,0.301,0.477,0.602,0.699,0.778,0.845,0.903,0.954,1,1.301,1.477,1.602,1.699,1.778,1.845,1.903,1.954,2,2.301,2.477,2.602,2.699,2.778,2.845,2.903,2.954,3],"labelExpr":"datum.value % 1 == 0 ? '10' + ['⁰','¹','²','³'][datum.value] : ''","tickSize":{"condition":{"test":"datum.value % 1 == 0","value":8},"value":4},"labelAlign":{"condition":{"test":"datum.value == 3","value":"right"},"value":"left"},"labelFlush":false,"labelOverlap":false,"labelBound":false,"labelPadding":3,"labelFont":"Liberation Sans","labelFontSize":10,"labelColor":"#555","domainColor":"#111","domainWidth":1.5,"tickColor":"#111","tickWidth":1.2,"grid":false,"title":null}},
"y":{"field":"pct","type":"quantitative","scale":{"domain":[-2,105],"nice":false,"zero":false},"axis":{"values":[0,5,10,15,20,25,30,35,40,45,50,55,60,65,70,75,80,85,90,95,100],"labelExpr":"datum.value % 20 == 0 ? datum.label : ''","tickSize":{"condition":{"test":"datum.value % 20 == 0","value":8},"value":4},"labelPadding":1,"labelOverlap":false,"labelFont":"Liberation Sans","labelFontSize":10,"labelColor":"#555","domainColor":"#111","domainWidth":1.5,"tickColor":"#111","tickWidth":1.2,"grid":false,"title":null}}},
"layer":[
{"data":{"name":"curves"},"transform":[{"filter":"datum.panel == 'R5' && datum.curve == 'light'"}],"mark":{"type":"area","fill":"#d0d0d0","stroke":"#666","strokeWidth":0.8}},
{"data":{"name":"curves"},"transform":[{"filter":"datum.panel == 'R5' && datum.curve == 'dark'"}],"mark":{"type":"area","fill":"#555","fillOpacity":0.85,"stroke":"#222","strokeWidth":0.8}},
{"data":{"name":"curves"},"transform":[{"filter":"datum.panel == 'R5' && datum.curve == 'non'"}],"mark":{"type":"line","stroke":"#222","strokeWidth":1.4,"strokeDash":[0.5,3.5],"strokeCap":"round"}},
{"data":{"name":"leaders"},"transform":[{"filter":"datum.panel == 'R5'"}],"mark":{"type":"rule","stroke":"#1a1a1a","strokeWidth":1},"encoding":{"x2":{"field":"logF2"},"y2":{"field":"pct2"}}},
{"data":{"name":"labels"},"transform":[{"filter":"datum.panel == 'R5'"}],"mark":{"type":"text","font":"Lato","fontWeight":"bold","fontSize":16,"color":"#1a1a1a"},"encoding":{"text":{"field":"label"}}}
]}
], "spacing": 44, "bounds": "flush"}
], "spacing": 222, "bounds": "flush"},
{"width":443,"height":274,
"view":{"stroke":null},
"title":{"text":"(b)","anchor":"start","frame":"group","dx":-52,"dy":-22,"fontSize":24,"font":"Lato","fontWeight":"bold","color":"#111"},
"encoding":{
"x":{"field":"group","type":"nominal","sort":null,"scale":{"domain":["EC","AB","R1","R3","R5"],"range":[15,443],"paddingInner":0,"paddingOuter":0},
"axis":{"title":"──────\u2003\u2009\u2009MDRAB\u2003\u2009\u2009──────","titleX":316,"titleY":54,"titleAlign":"center","titleBaseline":"middle","titleFont":"Lato","titleFontWeight":"normal","titleFontSize":18,"titleColor":"#111","labelFont":"Lato","labelFontWeight":"bold","labelFontSize":19,"labelColor":"#111","labelAngle":0,"labelPadding":26,"labelBaseline":"top","tickBand":"extent","tickSize":-6,"tickColor":"#111","tickWidth":1.3,"domainColor":"#111","domainWidth":1.5,"grid":false}},
"y":{"type":"quantitative","scale":{"domain":[0,3],"nice":false,"zero":false},
"axis":{"values":[0,1,2,3],"offset":-15,"tickSize":6,"labelFont":"Lato","labelFontWeight":"bold","labelFontSize":19,"labelColor":"#111","labelPadding":10,"domainColor":"#111","domainWidth":1.5,"tickColor":"#111","tickWidth":1.3,"grid":false,"title":"Relative ROS level","titleFont":"Lato","titleFontSize":19,"titleFontWeight":"bold","titleColor":"#111","titleX":-43,"titleY":137,"titleAngle":-90,"titleAlign":"center","titleBaseline":"middle"}}},
"layer":[
{"data":{"name":"bars"},"mark":{"type":"bar","fill":"#939393","stroke":"#1a1a1a","strokeWidth":1.3,"width":{"band":0.5}},"encoding":{"y":{"field":"mean","type":"quantitative"}}},
{"data":{"name":"bars"},"mark":{"type":"rule","stroke":"#1a1a1a","strokeWidth":1.3},"encoding":{"y":{"field":"mean","type":"quantitative"},"y2":{"field":"upper"}}},
{"data":{"name":"bars"},"mark":{"type":"tick","orient":"horizontal","size":9,"thickness":1.3,"color":"#1a1a1a"},"encoding":{"y":{"field":"upper","type":"quantitative"}}},
{"data":{"name":"bracket"},"mark":{"type":"line","stroke":"#1a1a1a","strokeWidth":1.3},"encoding":{"y":{"field":"level","type":"quantitative"},"order":{"field":"step","type":"quantitative"}}},
{"data":{"name":"star"},"mark":{"type":"text","font":"Lato","fontWeight":"bold","fontSize":26,"color":"#1a1a1a","baseline":"middle"},"encoding":{"y":{"field":"level","type":"quantitative"},"text":{"field":"text"}}}
]}
],
"spacing": 542, "bounds": "flush"
}
